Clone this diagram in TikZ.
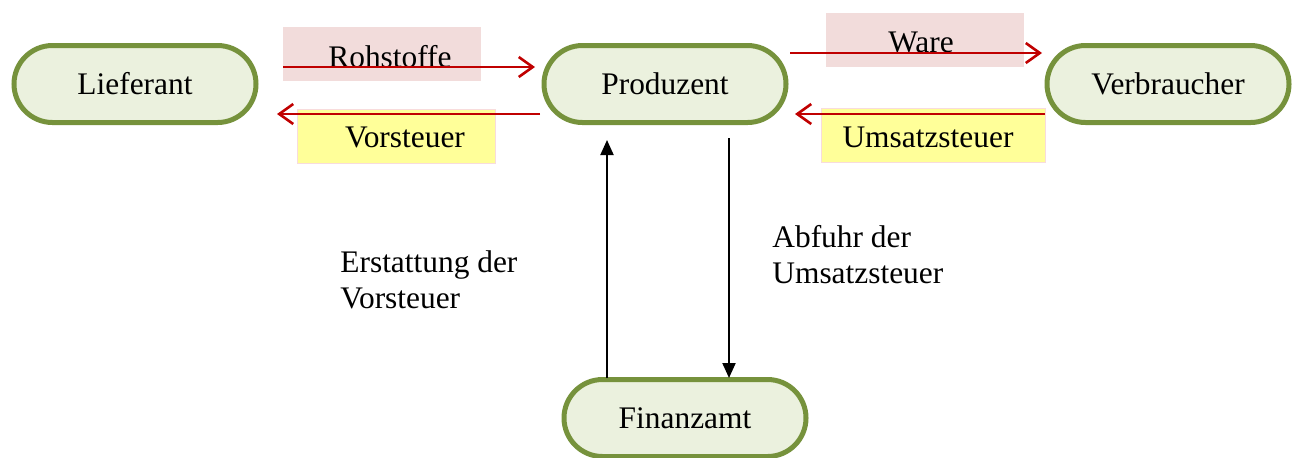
\documentclass[tikz,border=0pt]{standalone}
\usepackage{fontspec}
\setmainfont{Liberation Serif}
\usetikzlibrary{arrows.meta,shapes.misc}
\definecolor{nodegreen}{RGB}{118,146,60}
\definecolor{nodefill}{RGB}{235,241,222}
\definecolor{arrred}{RGB}{192,0,0}
\definecolor{pinkbox}{RGB}{242,220,219}
\definecolor{yellowbox}{RGB}{255,255,153}
\definecolor{yellowedge}{RGB}{248,220,220}
\tikzset{
  party/.style={rounded rectangle, draw=nodegreen, fill=nodefill, line width=2.5pt,
    minimum width=121pt, minimum height=38.5pt, inner sep=0pt, font=\fontsize{15.7}{18}\selectfont},
  pinklabel/.style={fill=pinkbox, minimum width=99pt, minimum height=27pt, inner sep=0pt},
  yellowlabel/.style={fill=yellowbox, draw=yellowedge, line width=0.4pt, minimum height=27pt, inner sep=0pt},
  lbl/.style={font=\fontsize{15.7}{18}\selectfont, inner sep=0pt},
  redarrow/.style={draw=arrred, line width=1.3pt, -{Straight Barb[length=7pt,width=10pt,line width=1.3pt]}},
  blackarrow/.style={draw=black, line width=1pt, -{Triangle[length=7.5pt,width=6.5pt]}},
  note/.style={font=\fontsize{15.7}{18}\selectfont, align=left, anchor=north west, inner sep=0pt}
}
\begin{document}
\begin{tikzpicture}[x=0.5pt,y=-0.5pt]
\useasboundingbox (0,0) rectangle (1294,457);
% nodes
\node[party] (lief) at (135,84) {Lieferant};
\node[party] (prod) at (665,84) {Produzent};
\node[party] (verb) at (1168,84) {Verbraucher};
\node[party] (fin) at (685,418) {Finanzamt};
% label boxes
\node[pinklabel] (rohbox) at (382,54) {};
\node[yellowlabel, minimum width=99pt] (vorbox) at (396,136) {};
\node[pinklabel] (warebox) at (924.5,39.5) {};
\node[yellowlabel, minimum width=112pt] (umsbox) at (933,135) {};
\node[lbl] (roh) at (390,57) {Rohstoffe};
\node[lbl] (vor) at (405,137) {Vorsteuer};
\node[lbl] (ware) at (921,42) {Ware};
\node[lbl] (ums) at (928,137) {Umsatzsteuer};
% arrow end points
\coordinate (r1s) at (283,67);
\coordinate (r1e) at (535,67);
\coordinate (r2s) at (540,114);
\coordinate (r2e) at (277,114);
\coordinate (r3s) at (790,53);
\coordinate (r3e) at (1042,53);
\coordinate (r4s) at (1045,114);
\coordinate (r4e) at (795,114);
\coordinate (upS) at (607,378);
\coordinate (upE) at (607,140);
\coordinate (dnS) at (729,138);
\coordinate (dnE) at (729,378);
\draw[redarrow] (r1s) -- (r1e);
\draw[redarrow] (r2s) -- (r2e);
\draw[redarrow] (r3s) -- (r3e);
\draw[redarrow] (r4s) -- (r4e);
\draw[blackarrow] (upS) -- (upE);
\draw[blackarrow] (dnS) -- (dnE);
% notes
\node[note] (erst) at (340,250) {Erstattung der\\Vorsteuer};
\node[note] (abf) at (772,225) {Abfuhr der\\Umsatzsteuer};
\end{tikzpicture}
\end{document}
